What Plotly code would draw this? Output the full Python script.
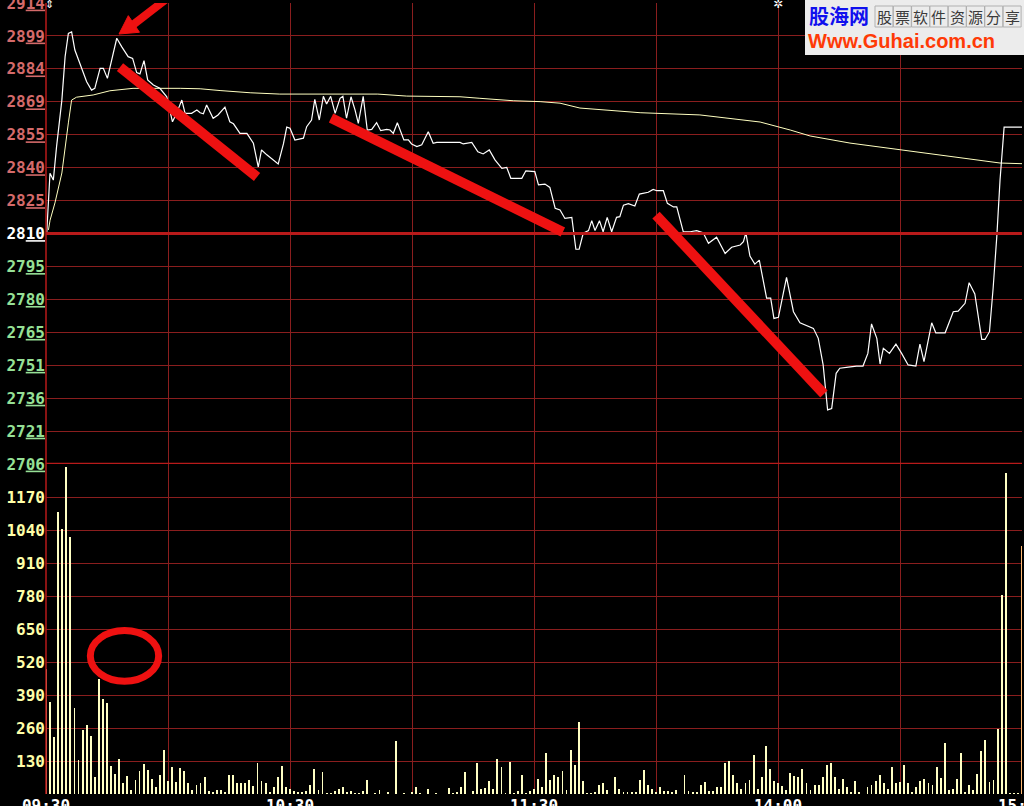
import plotly.graph_objects as go

# ---------------- data ----------------
time_labels = ["09:30", "", "10:30", "", "11:30", "", "14:00", "", "15:00"]
time_ticks = [0, 30, 60, 90, 120, 150, 180, 210, 240]

prev_close = 2810
price_low, price_high = 2706, 2914
price_tick_labels = ["2706", "2721", "2736", "2751", "2765", "2780", "2795", "2810",
                     "2825", "2840", "2855", "2869", "2884", "2899", "2914"]
volume_max = 1300
volume_tick_labels = ["130", "260", "390", "520", "650", "780", "910", "1040", "1170"]

price_minutes = [0.17, 0.98, 1.8, 2.6, 3.9, 4.7, 5.5, 6.3, 7.1, 8.4, 10.0, 11.2, 12.0, 13.3,
                 14.1, 15.1, 17.4, 18.6, 20.2, 21.3, 22.3, 23.1, 24.1, 25.0, 26.4, 28.0,
                 29.7, 31.1, 32.1, 33.4, 34.2, 35.8, 37.1, 37.9, 38.7, 39.5, 41.1, 42.3,
                 44.0, 45.2, 46.1, 47.7, 49.4, 51.0, 52.2, 53.0, 54.3, 57.1, 58.4, 59.2,
                 60.0, 61.2, 63.3, 64.1, 65.3, 66.1, 67.2, 68.2, 69.0, 70.0, 71.1, 72.3,
                 73.0, 73.9, 75.0, 76.0, 76.8, 78.0, 79.0, 80.1, 81.3, 82.3, 83.8, 84.6,
                 85.4, 86.4, 88.0, 89.1, 89.9, 91.2, 92.4, 94.0, 95.2, 96.1, 101.8, 102.6,
                 104.7, 106.2, 107.5, 109.0, 110.4, 112.1, 113.3, 114.3, 117.0, 118.0,
                 120.2, 121.1, 122.7, 123.9, 125.2, 126.4, 127.6, 129.3, 130.3, 131.1,
                 132.1, 133.4, 134.2, 135.0, 136.1, 137.0, 138.0, 139.1, 140.3, 141.1,
                 142.0, 143.2, 144.8, 145.9, 147.3, 148.1, 149.3, 150.2, 151.8, 152.8,
                 154.3, 155.1, 156.7, 158.4, 160.0, 161.6, 162.9, 164.9, 167.0, 168.6,
                 170.7, 171.5, 172.1, 173.1, 174.3, 175.4, 177.2, 178.2, 179.0, 180.1,
                 182.1, 183.8, 185.4, 187.1, 188.7, 189.9, 191.1, 192.2, 193.2, 194.3,
                 195.2, 197.3, 199.3, 200.9, 202.1, 203.0, 204.3, 205.1, 205.9, 207.4,
                 209.0, 210.4, 212.0, 213.9, 214.9, 215.9, 217.8, 218.8, 221.1, 223.1,
                 224.3, 226.0, 227.0, 228.4, 230.1, 230.9, 232.0, 232.9, 233.8, 234.6,
                 235.6, 240.0]
price_values = [2810, 2837.2, 2834.1, 2849.2, 2870.2, 2889.8, 2900.3, 2901, 2892.8, 2886,
                2878.5, 2874.7, 2875.5, 2884.5, 2884.5, 2880, 2898.1, 2894.3, 2889.8, 2889,
                2882.6, 2882, 2888, 2879.3, 2877, 2875.5, 2871.7, 2860.4, 2864.2, 2870.2,
                2864.2, 2864.2, 2865.7, 2864.5, 2864, 2868, 2862, 2863.5, 2867, 2860.4,
                2859.5, 2855.2, 2855.2, 2850.7, 2840, 2847.7, 2845.5, 2841.4, 2850.5, 2858,
                2857.5, 2852.2, 2853, 2858.2, 2861.2, 2870.5, 2861.2, 2871.9, 2868.4, 2871.9,
                2864.2, 2871, 2871.9, 2862, 2871.7, 2865.7, 2859.7, 2871.9, 2856.7, 2857,
                2860, 2856.4, 2857, 2856.7, 2855.2, 2860, 2852.2, 2852.2, 2850.4, 2849.2,
                2850, 2855.9, 2850.7, 2851.1, 2851.1, 2850.4, 2851.1, 2846.9, 2845.9, 2847.7,
                2843.2, 2839.4, 2839.8, 2834.9, 2834.9, 2838.3, 2837.9, 2831.9, 2832.3,
                2830.8, 2821.4, 2820.6, 2816.8, 2817.3, 2802.9, 2802.9, 2810.1, 2811.3,
                2815.8, 2811.3, 2815.8, 2810.8, 2817.3, 2810.8, 2817.3, 2817.6, 2822.8,
                2823.5, 2822.4, 2827.8, 2828.3, 2828.6, 2829.9, 2829.3, 2829.3, 2823.6,
                2822, 2822, 2810.8, 2810.8, 2811.3, 2810.3, 2805.6, 2808.3, 2801, 2803.8,
                2804.8, 2806.3, 2810.3, 2799.8, 2796.2, 2798, 2780.8, 2780.8, 2771.7,
                2772.2, 2790.2, 2774.7, 2769.7, 2768.3, 2767.2, 2762.7, 2750.7, 2730.4,
                2731, 2746.9, 2749.2, 2749.7, 2750.2, 2750.2, 2755.9, 2769.2, 2762.7,
                2751.1, 2758.2, 2755.9, 2760.1, 2755.9, 2750.7, 2750.2, 2760.1, 2752.2,
                2769.7, 2765.2, 2765.2, 2774.7, 2775, 2778.5, 2787.8, 2782.7, 2762.2,
                2762.2, 2765.7, 2785.3, 2808.6, 2834.1, 2858, 2858]

avg_minutes = [0.6, 1.0, 2.2, 3.9, 5.5, 6.3, 7.5, 11.6, 15.7, 21.4, 33.0, 37.9, 42.8,
               50.2, 57.5, 72.3, 81.6, 88.7, 101.8, 106.7, 114.9, 121.5, 126.4, 131.3,
               146.1, 160.8, 175.6, 183.0, 187.9, 197.7, 210.0, 224.8, 234.6, 240.0]
avg_values = [2811.6, 2816, 2823.8, 2837.3, 2859.9, 2870.2, 2871.5, 2872.5, 2874.4,
              2875.5, 2875.5, 2875.3, 2874.5, 2873.5, 2872.9, 2872.9, 2872.9, 2872,
              2871.7, 2871, 2869.9, 2869.5, 2868.8, 2866.6, 2864.5, 2863.5, 2860.3,
              2856.7, 2854, 2850.8, 2847.7, 2844.1, 2841.8, 2841.5]

volume_values = [492, 362, 225, 1111, 1044, 1288, 1012, 339, 134, 252, 272, 228, 67, 453,
                 374, 358, 110, 79, 138, 43, 71, 16, 55, 91, 118, 95, 59, 28, 75, 173, 51,
                 106, 47, 102, 91, 43, 16, 35, 42, 66, 13, 8, 16, 16, 5, 76, 74, 45, 45, 45,
                 55, 33, 123, 53, 42, 5, 26, 66, 112, 29, 20, 10, 8, 8, 10, 37, 100, 16, 88,
                 3, 3, 10, 18, 29, 5, 13, 3, 3, 10, 55, 0, 3, 16, 0, 5, 0, 210, 0, 3, 0, 5,
                 29, 3, 0, 21, 0, 3, 0, 0, 24, 3, 5, 26, 87, 0, 10, 121, 21, 24, 53, 21, 139,
                 105, 3, 126, 3, 10, 74, 3, 10, 20, 60, 26, 160, 55, 74, 68, 89, 16, 175,
                 113, 284, 50, 3, 3, 5, 34, 45, 17, 0, 68, 21, 8, 8, 8, 5, 55, 95, 34, 21, 8,
                 26, 10, 10, 5, 16, 0, 74, 10, 5, 8, 37, 47, 13, 13, 29, 26, 121, 129, 76,
                 45, 21, 42, 55, 152, 21, 68, 190, 97, 50, 42, 32, 16, 81, 71, 68, 100, 45,
                 16, 37, 34, 68, 113, 123, 68, 21, 58, 26, 8, 53, 8, 0, 29, 34, 50, 76, 45,
                 18, 105, 42, 47, 113, 45, 5, 29, 53, 60, 42, 34, 105, 63, 202, 16, 21, 59,
                 163, 9, 35, 16, 79, 171, 213, 47, 55, 257, 784, 1263, 3, 3, 3, 977]
volume_minutes = list(range(len(volume_values)))

# ---------------- styles ----------------
W, H = 1024, 806
ML, MR, MT, MB = 46, 2, 3, 12
PLOT_W = W - ML - MR
PLOT_H = H - MT - MB
split_px = 464
price_dom = (PLOT_H + MT - split_px) / PLOT_H

GRID = "#8a1e1e"
THICK = "#b81a1a"
RED = "#ee1111"
MONO = "DejaVu Sans Mono"


def pxx(x):
    return (x - ML) / PLOT_W


def pxy(y):
    return (H - MB - y) / PLOT_H


def price_label(s):
    v = int(s)
    col = "#d46a6a" if v > prev_close else ("#96e096" if v < prev_close else "#ffffff")
    return f'<span style="color:{col}">{s[:2]}<u>{s[2:]}</u></span>'


price_tickvals = [price_low + i * (price_high - price_low) / (len(price_tick_labels) - 1)
                  for i in range(len(price_tick_labels))]
volume_tickvals = [int(s) for s in volume_tick_labels]

bar_colors = ["#ffffc4"] * len(volume_values)
bar_colors[0] = "#ffc890"
bar_colors[-1] = "#ffb870"

fig = go.Figure()
fig.add_trace(go.Scatter(x=avg_minutes, y=avg_values, mode="lines",
                         line=dict(color="#ffffc0", width=1), xaxis="x", yaxis="y",
                         hoverinfo="skip"))
fig.add_trace(go.Scatter(x=price_minutes, y=price_values, mode="lines",
                         line=dict(color="#ffffff", width=1.2), xaxis="x", yaxis="y"))
fig.add_trace(go.Bar(x=volume_minutes, y=volume_values, width=0.2,
                     marker=dict(color=bar_colors, line=dict(width=0)),
                     xaxis="x", yaxis="y2"))

shapes = []
# thick reference lines
shapes.append(dict(type="line", xref="paper", yref="y", x0=0, x1=1, y0=prev_close,
                   y1=prev_close, line=dict(color=THICK, width=3)))
shapes.append(dict(type="line", xref="paper", yref="y", x0=0, x1=1, y0=price_low,
                   y1=price_low, line=dict(color=THICK, width=2.5)))
shapes.append(dict(type="line", xref="paper", yref="paper", x0=0, x1=0, y0=0, y1=1,
                   line=dict(color=THICK, width=1.5)))

# hand-drawn red markers (data units)
strokes = [((18.2, 2885.1), (51.9, 2835.5)),
           ((70.1, 2862.1), (127.1, 2810.7)),
           ((150.0, 2818.3), (191.3, 2737.6))]
for (a, b) in strokes:
    shapes.append(dict(type="line", xref="x", yref="y", x0=a[0], y0=a[1], x1=b[0], y1=b[1],
                       line=dict(color=RED, width=10)))
shapes.append(dict(type="line", xref="x", yref="y", x0=29.6, y0=2915.8, x1=21.4, y1=2904.2,
                   line=dict(color=RED, width=8)))
head = [(17.95, 2900.0), (20.24, 2908.3), (22.99, 2900.8)]
shapes.append(dict(type="path", xref="x", yref="y",
                   path="M {} {} L {} {} L {} {} Z".format(*[c for p in head for c in p]),
                   fillcolor=RED, line=dict(color=RED, width=1)))
shapes.append(dict(type="circle", xref="x", yref="y2", x0=10.9, x1=27.7, y0=444, y1=644,
                   line=dict(color=RED, width=7)))

# watermark box
shapes.append(dict(type="rect", xref="paper", yref="paper", x0=pxx(805), x1=pxx(1024),
                   y0=pxy(55), y1=pxy(0), fillcolor="#ececec", line=dict(width=0),
                   layer="above"))
box_chars = "股票软件资源分享"
annotations = []
for i, ch in enumerate(box_chars):
    cx = 884 + i * 18.3
    shapes.append(dict(type="rect", xref="paper", yref="paper", x0=pxx(cx - 9),
                       x1=pxx(cx + 9), y0=pxy(27), y1=pxy(6), fillcolor="rgba(0,0,0,0)",
                       line=dict(color="#b0b0b0", width=1), layer="above"))
    annotations.append(dict(text=ch, xref="paper", yref="paper", x=pxx(cx), y=pxy(16.5),
                            xanchor="center", yanchor="middle", showarrow=False,
                            font=dict(family="Noto Sans CJK SC", size=15, color="#3a3a3a")))

annotations += [
    dict(text="<b>股海网</b>", xref="paper", yref="paper", x=pxx(807), y=pxy(15),
         xanchor="left", yanchor="middle", showarrow=False,
         font=dict(family="Noto Sans CJK SC", size=20, color="#1010ee")),
    dict(text="<b>Www.Guhai.com.cn</b>", xref="paper", yref="paper", x=pxx(806), y=pxy(41),
         xanchor="left", yanchor="middle", showarrow=False,
         font=dict(family="Liberation Sans", size=20, color="#ff3a06")),
    dict(text="⇕", xref="paper", yref="paper", x=pxx(49), y=pxy(4), xanchor="center",
         yanchor="middle", showarrow=False,
         font=dict(family="DejaVu Sans", size=11, color="#ffffff")),
    dict(text="✲", xref="paper", yref="paper", x=pxx(778), y=pxy(4), xanchor="center",
         yanchor="middle", showarrow=False,
         font=dict(family="DejaVu Sans", size=12, color="#ffffff")),
]

fig.update_layout(
    width=W, height=H,
    margin=dict(l=ML, r=MR, t=MT, b=MB, autoexpand=False),
    paper_bgcolor="#000000", plot_bgcolor="#000000",
    showlegend=False, bargap=0,
    xaxis=dict(range=[0, 240], domain=[0, 1], anchor="y2", tickvals=time_ticks,
               ticktext=time_labels, showgrid=True, gridcolor=GRID, gridwidth=1,
               zeroline=False, showline=False, ticks="", automargin=False,
               ticklabeloverflow="allow",
               tickfont=dict(family=MONO, size=16, color="#ffffff", weight="bold")),
    yaxis=dict(range=[price_low, price_high], domain=[price_dom, 1], anchor="x",
               tickvals=price_tickvals, ticktext=[price_label(s) for s in price_tick_labels],
               showgrid=True, gridcolor=GRID, gridwidth=1, zeroline=False, ticks="",
               automargin=False, ticklabeloverflow="allow",
               tickfont=dict(family=MONO, size=16, weight="bold")),
    yaxis2=dict(range=[0, volume_max], domain=[0, price_dom], anchor="x",
                tickvals=volume_tickvals, ticktext=volume_tick_labels,
                showgrid=True, gridcolor=GRID, gridwidth=1, zeroline=False, ticks="",
                automargin=False, ticklabeloverflow="allow",
                tickfont=dict(family=MONO, size=16, color="#ffffa8", weight="bold")),
    shapes=shapes,
    annotations=annotations,
)

fig.write_html(
    "out.html",
    config={"displayModeBar": False},
    post_script="document.body.style.margin='0px';document.body.style.padding='0px';"
                "document.body.style.overflow='hidden';document.body.style.background='#000';",
)
